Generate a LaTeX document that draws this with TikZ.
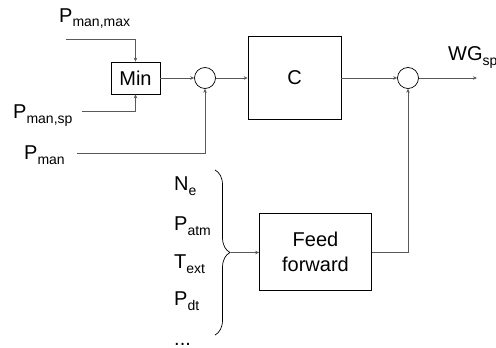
\documentclass[tikz,border=0pt]{standalone}
\usepackage{fontspec}
\setmainfont{Liberation Sans}
\usetikzlibrary{arrows.meta,decorations.pathreplacing}
\newcommand\subtx[1]{\raisebox{-5pt}{\fontsize{14}{14}\selectfont #1}}
\begin{document}
\begin{tikzpicture}[x=1pt,y=-1pt,
  blk/.style={draw=black,line width=0.7pt,inner sep=0pt,align=center,font=\fontsize{20}{24.5}\selectfont},
  sumc/.style={draw=black,circle,line width=0.7pt,minimum size=21pt,inner sep=0pt},
  conn/.style={draw=black!65,line width=0.6pt,-{Stealth[length=4pt,width=3.5pt]}},
  lbl/.style={anchor=base west,inner sep=0pt,font=\fontsize{20}{24}\selectfont}]
\useasboundingbox (0,0) rectangle (496,348);
\clip (0,0) rectangle (496,348);
% blocks
\node[blk,minimum width=49pt,minimum height=32pt] (min) at (135.5,78) {Min};
\node[sumc] (s1) at (205,78) {};
\node[blk,minimum width=93pt,minimum height=83pt] (C) at (294.5,78) {C};
\node[sumc] (s2) at (408,78) {};
\node[blk,minimum width=112pt,minimum height=77pt] (ff) at (315.5,252) {Feed\\forward};
% labels
\node[lbl] (lmax) at (59,22) {P\subtx{man,max}};
\node[lbl] (lsp) at (13,118) {P\subtx{man,sp}};
\node[lbl] (lman) at (24,159) {P\subtx{man}};
\node[lbl] (lwg) at (448,60) {WG\subtx{sp}};
\node[lbl] (lne) at (174,190) {N\subtx{e}};
\node[lbl] (latm) at (174,230) {P\subtx{atm}};
\node[lbl] (lext) at (174,268) {T\subtx{ext}};
\node[lbl] (ldt) at (174,305) {P\subtx{dt}};
\node[lbl] (ldots) at (174,345) {...};
% free ends
\coordinate (c1) at (66,39);
\coordinate (c2) at (82,111);
\coordinate (c3) at (77,153);
\coordinate (out) at (477,78);
\coordinate (bt) at (215,170);
\coordinate (bb) at (215,335);
\coordinate (btip) at (231,252.5);
% connectors
\draw[conn] (c1) -| (min.north);
\draw[conn] (c2) -| (min.south);
\draw[conn] (min) -- (s1);
\draw[conn] (c3) -| (s1.south);
\draw[conn] (s1) -- (C);
\draw[conn] (C) -- (s2);
\draw[conn] (s2) -- (out);
\draw[conn] (ff.east) -| (s2.south);
\draw[black,line width=0.7pt,decorate,decoration={brace,amplitude=15pt}] (bt) -- (bb);
\draw[conn] (btip) -- (ff.west |- btip);
\end{tikzpicture}
\end{document}
